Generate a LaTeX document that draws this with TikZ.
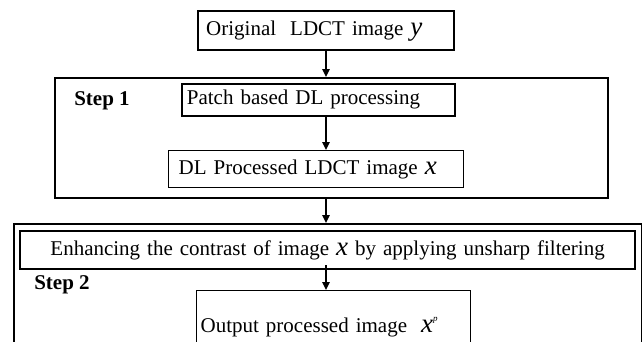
\documentclass[tikz,border=0pt]{standalone}
\usepackage{fontspec}
\setmainfont{Liberation Serif}
\usetikzlibrary{arrows.meta}
\newcommand\bigital[1]{{\fontsize{27}{27}\selectfont\itshape #1}}
\begin{document}
\begin{tikzpicture}[x=1pt,y=-1pt,
  txt/.style={font=\fontsize{21}{24}\selectfont},
  boxthin/.style={draw, line width=1.3pt, anchor=north west, inner ysep=0pt, txt},
  boxmid/.style={draw, line width=1.8pt, anchor=north west, inner ysep=0pt, txt},
  boxthick/.style={draw, line width=2.4pt, anchor=north west, inner sep=0pt},
  steplabel/.style={font=\fontsize{21}{24}\selectfont\bfseries},
  arr/.style={line width=1.5pt, -{Triangle[width=7.5pt,length=8pt]}}
]
\clip (0,0) rectangle (642,341);
% outer step boxes
\node[boxthick, minimum width=553pt, minimum height=120pt] (step1) at (54,77) {};
\node[boxthick, minimum width=628pt, minimum height=160pt] (step2) at (13,223) {};
% boxes
\node[boxthick, txt, minimum height=39pt, text width=240pt, inner xsep=8pt, align=left] (orig) at (197,10)
  {Original\ \ LDCT image \bigital{y}};
\node[boxmid, minimum height=32pt, text width=263pt, inner xsep=5pt, align=left] (patch) at (181,83)
  {Patch based DL processing};
\node[boxthin, minimum height=37pt, text width=275pt, inner xsep=10pt, align=left] (dl) at (168,150)
  {DL Processed LDCT image \bigital{x}};
\node[boxmid, line width=2.2pt, minimum height=38pt, text width=605pt, inner xsep=5pt, align=center] (enh) at (19,230)
  {Enhancing the contrast of image \bigital{x} by applying unsharp filtering};
\node[boxthin, minimum height=72pt, text width=266pt, inner xsep=4pt, align=left] (out) at (196,290)
  {Output processed image\ \ \bigital{x}\raisebox{11pt}{\fontsize{9}{9}\selectfont\itshape p}};
% labels
\node[steplabel] (s1) at (102,101) {Step 1};
\node[steplabel] (s2) at (62,285) {Step 2};
% arrows
\coordinate (ax) at (326,0);
\draw[arr] (orig.south -| ax) -- (step1.north -| ax);
\draw[arr] (patch.south -| ax) -- (dl.north -| ax);
\draw[arr] (step1.south -| ax) -- (step2.north -| ax);
\draw[arr] ([yshift=5pt]enh.south -| ax) -- (out.north -| ax);
\end{tikzpicture}
\end{document}
